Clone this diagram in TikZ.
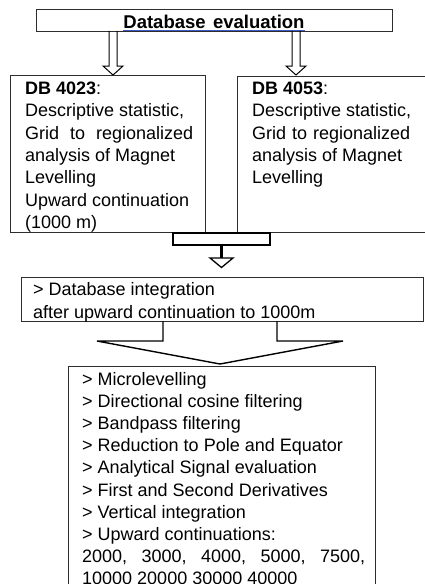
\documentclass[tikz,border=0pt]{standalone}
\usepackage{fontspec}
\setmainfont{Liberation Sans}
\definecolor{ulblue}{RGB}{60,90,200}
\definecolor{edge}{RGB}{45,45,45}
\begin{document}
\begin{tikzpicture}[x=1pt,y=-1pt,
  boxst/.style={draw=edge, line width=0.9pt, inner sep=0pt, anchor=north west},
  txt/.style={inner sep=0pt, anchor=base west, font=\fontsize{18}{22.3}\selectfont},
  hollow/.style={draw=black, line width=1pt, line join=miter}]
\useasboundingbox (0,0) rectangle (424,584);

% top box
\node[boxst, minimum width=356pt, minimum height=21.5pt] (topbox) at (36,9) {};
\node[inner sep=0pt, anchor=base, font=\fontsize{18.5}{22}\selectfont\bfseries] (toptext) at (214,28) {Database\hspace{0.4em}evaluation};
\draw[ulblue, line width=0.9pt] ([yshift=-2pt]toptext.base west) -- ([yshift=-2pt]toptext.base east);

% DB boxes
\node[boxst, minimum width=195pt, minimum height=157pt] (db1) at (10,75) {};
\node[boxst, minimum width=190pt, minimum height=156.5pt] (db2) at (237,75.5) {};

% hollow arrows from top box to DB boxes
\foreach \cx in {113,296}{
  \draw[hollow] ({\cx-4},30.8) -- ({\cx-4},66) -- ({\cx-10},66) -- (\cx,75) -- ({\cx+10},66) -- ({\cx+4},66) -- ({\cx+4},30.8);
}

\node[txt] (t1) at (25,94.5) {\parbox[t]{175pt}{\textbf{DB 4023}:\\
 Descriptive statistic,\\
 \makebox[168pt][s]{Grid to regionalized}\\
 analysis of Magnet\\
 Levelling\\
 Upward continuation\\
 (1000 m)}};

\node[txt] (t2) at (252,94.5) {\parbox[t]{165pt}{\textbf{DB 4053}:\\
 Descriptive statistic,\\
 \makebox[158pt][s]{Grid to regionalized}\\
 analysis of Magnet\\
 Levelling}};

% bracket joining the two DB boxes
\coordinate (brkL) at (173,233);
\coordinate (brkR) at (270,245);
\draw[line width=1.6pt] (brkL) rectangle (brkR);
\coordinate (brkC) at (221.5,245);
\coordinate (brkT) at (221.5,258);
\draw[line width=2.6pt] (brkC) -- (brkT);
\draw[line width=1.3pt, fill=white, line join=miter] ([xshift=-11.5pt]brkT) -- ([xshift=11.5pt]brkT) -- (221.5,267.5) -- cycle;

% integration box
\node[boxst, minimum width=402pt, minimum height=44pt] (integ) at (21,277) {};
\node[txt] (t3) at (33,295.5) {\parbox[t]{385pt}{\fontsize{18}{23}\selectfont > Database integration\\
 after upward continuation to 1000m}};

% big hollow arrow
\draw[line width=1.4pt, line join=miter] (163,321) -- (163,341) -- (97,341) -- (220,364) -- (343,341) -- (277,341) -- (277,321);

% processing box
\node[boxst, minimum width=307pt, minimum height=240pt] (proc) at (68,365.5) {};
\node[txt] (t4) at (82,385.5) {\parbox[t]{290pt}{\fontsize{18}{22.1}\selectfont > Microlevelling\\
 > Directional cosine filtering\\
 > Bandpass filtering\\
 > Reduction to Pole and Equator\\
 > Analytical Signal evaluation\\
 > First and Second Derivatives\\
 > Vertical integration\\
 > Upward continuations:\\
 \makebox[283pt][s]{2000, 3000, 4000, 5000, 7500,}\\
 10000 20000 30000 40000}};
\end{tikzpicture}
\end{document}
